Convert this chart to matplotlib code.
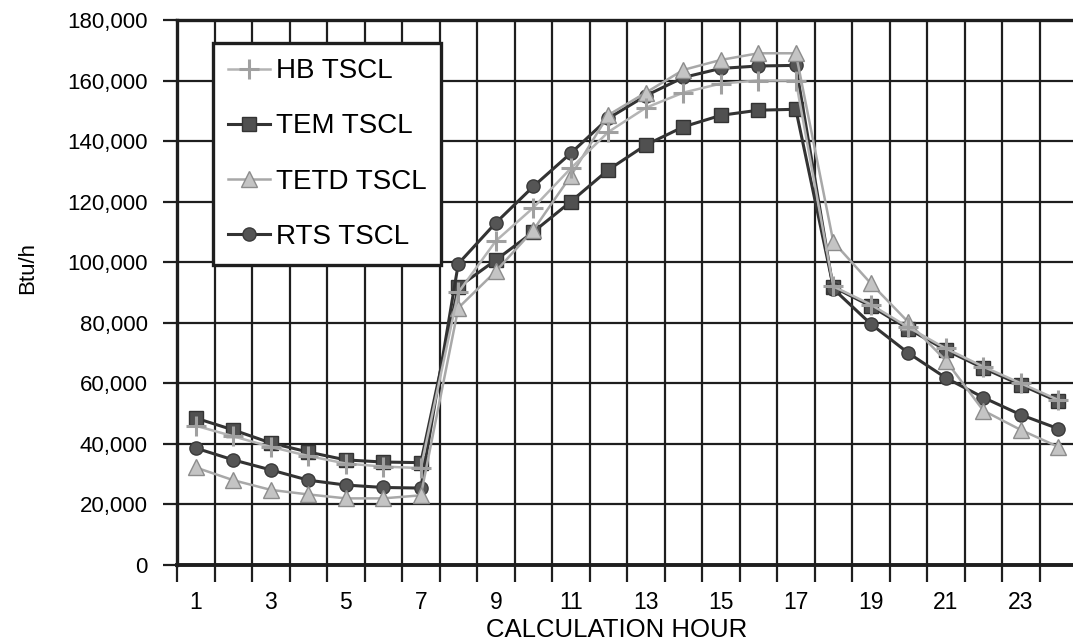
import numpy as np
import matplotlib
matplotlib.use('Agg')
import matplotlib.pyplot as plt
from matplotlib.ticker import FixedLocator, FuncFormatter

plt.rcParams['font.family'] = ['Liberation Sans', 'DejaVu Sans']

# cooling load per calculation hour, Btu/h
horas = list(range(1, 25))
hb_tscl = [46000, 42500, 39000, 36000, 33500, 32500, 32000, 90000, 107000, 118000, 131000, 143000,
           151000, 156000, 159000, 160000, 160000, 92000, 86000, 78500, 71500, 65500, 60000, 54500]
tem_tscl = [48500, 44600, 40300, 37300, 34700, 34000, 33800, 91800, 100700, 110000, 120000, 130500,
            138700, 144700, 148500, 150200, 150500, 91800, 85500, 78000, 71000, 65000, 59500, 54000]
tetd_tscl = [32200, 28000, 24800, 23300, 22000, 22000, 23000, 84900, 97000, 110600, 128500, 148600,
             156000, 163500, 166800, 169000, 169000, 106700, 93000, 80200, 67500, 51000, 44600, 39000]
rts_tscl = [38600, 34700, 31400, 28000, 26400, 25600, 25400, 99500, 113000, 125000, 136000, 147500,
            155000, 161000, 164000, 164800, 165000, 91200, 79600, 70000, 61800, 55300, 49600, 45000]

labels_x = list(range(1, 25, 2))
grade = '#1e1e1e'

fig = plt.figure(figsize=(10.73, 6.44), dpi=100)
ax = fig.add_axes([0.165, 0.1227, 0.8388, 0.8463])

ax.plot(horas, hb_tscl, '+-', color='#b4b4b4', lw=1.8, ms=15, mew=2.2, mec='#a0a0a0',
        label='HB TSCL', zorder=6)
ax.plot(horas, tem_tscl, 's-', color='#333333', lw=2.2, ms=10, mfc='#505050', mec='#333333',
        label='TEM TSCL', zorder=4)
ax.plot(horas, tetd_tscl, '^-', color='#a8a8a8', lw=1.8, ms=12, mfc='#c4c4c4', mec='#8c8c8c',
        label='TETD TSCL', zorder=5)
ax.plot(horas, rts_tscl, 'o-', color='#333333', lw=2.2, ms=9.5, mfc='#555555', mec='#3a3a3a',
        label='RTS TSCL', zorder=4)

ax.set_xlim(0.5, 24.5)
ax.set_ylim(0, 180000)

# eixo x: rotulos nas horas impares, divisoes entre as horas
ax.xaxis.set_major_locator(FixedLocator(labels_x))
ax.xaxis.set_minor_locator(FixedLocator(np.arange(0.5, 25, 1)))
ax.tick_params(axis='x', which='major', length=0, pad=19, labelsize=16.5)
ax.tick_params(axis='x', which='minor', length=12, width=1.6, color=grade, direction='out')
ax.set_yticks(np.arange(0, 180001, 20000))
ax.yaxis.set_major_formatter(FuncFormatter(lambda v, p: '{:,.0f}'.format(v)))
ax.tick_params(axis='y', length=10, width=1.6, color=grade, pad=11, labelsize=16)

ax.grid(True, axis='x', which='minor', color=grade, lw=1.6)
ax.grid(True, axis='y', which='major', color=grade, lw=1.6)
ax.set_axisbelow(True)

ax.spines['right'].set_visible(False)
ax.spines['left'].set_linewidth(2.4)
ax.spines['bottom'].set_linewidth(2.8)
ax.spines['top'].set_linewidth(2.4)
for s in ['left', 'bottom', 'top']:
    ax.spines[s].set_color(grade)

ax.set_xlabel('CALCULATION HOUR', fontsize=18.5)
ax.xaxis.set_label_coords(0.488, -0.097)
ax.set_ylabel('Btu/h', fontsize=16)
ax.yaxis.set_label_coords(-0.154, 0.545)

leg = ax.legend(loc='upper left', bbox_to_anchor=(213 / 1073, 1 - 43 / 644),
                bbox_transform=fig.transFigure, borderaxespad=0, fontsize=20,
                handlelength=1.5, handletextpad=0.2, labelspacing=1.05, borderpad=0.55,
                fancybox=False, framealpha=1, edgecolor=grade)
leg.get_frame().set_linewidth(2.4)
leg.set_zorder(10)

fig.savefig('out.png', dpi=100)
